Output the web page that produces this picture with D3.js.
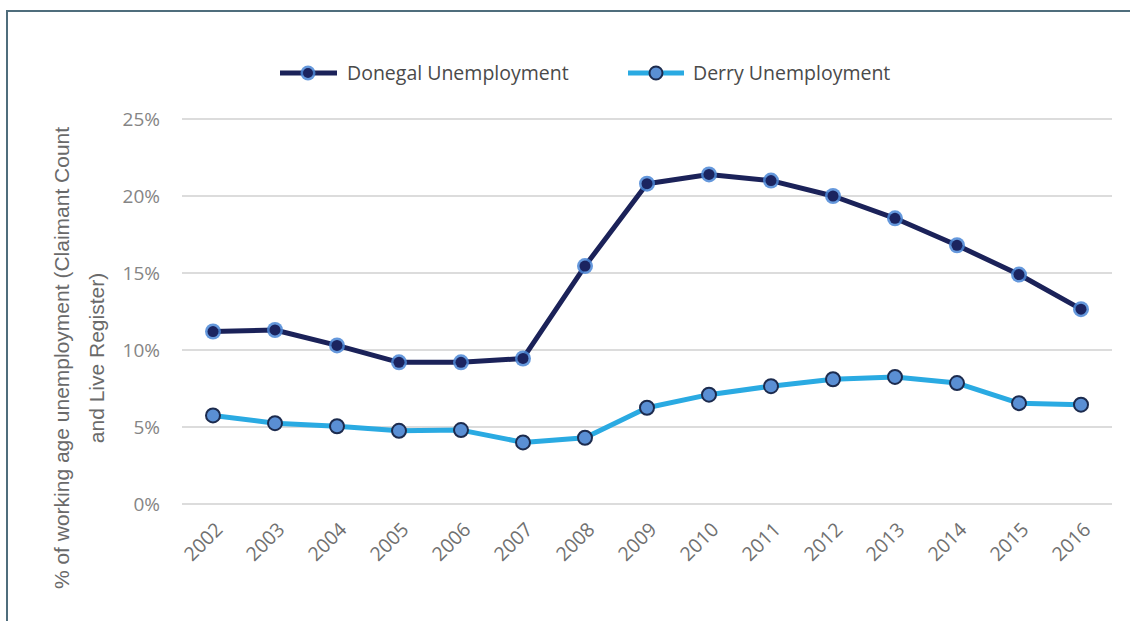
<!DOCTYPE html>
<html><head><meta charset="utf-8">
<script src="https://cdn.jsdelivr.net/npm/d3@7"></script>
<style>html,body{margin:0;padding:0;background:#fff;}</style>
</head><body>
<svg id="chart" width="1130" height="621"></svg>
<script>
const years = ["2002","2003","2004","2005","2006","2007","2008","2009","2010","2011","2012","2013","2014","2015","2016"];
const donegal = [11.2,11.3,10.3,9.2,9.2,9.45,15.45,20.8,21.4,21.0,20.0,18.55,16.8,14.9,12.65];
const derry = [5.75,5.25,5.05,4.75,4.8,4.0,4.3,6.25,7.1,7.65,8.1,8.25,7.85,6.55,6.45];
const yTicks = [0,5,10,15,20,25];
const seriesNames = ["Donegal Unemployment","Derry Unemployment"];
const yTitle = ["% of working age unemployment (Claimant Count","and Live Register)"];

const svg = d3.select("#chart");
// frame
svg.append("line").attr("x1",7).attr("x2",7).attr("y1",11).attr("y2",621).attr("stroke","#4f6d7c").attr("stroke-width",2);
svg.append("line").attr("x1",6).attr("x2",1130).attr("y1",11).attr("y2",11).attr("stroke","#4f6d7c").attr("stroke-width",2);

const x = d3.scaleBand().domain(years).range([182,1112]);
const y = d3.scaleLinear().domain([0,25]).range([504,119]);

// gridlines
svg.append("g").selectAll("line").data(yTicks).join("line")
  .attr("x1",182).attr("x2",1112)
  .attr("y1",d=>y(d)).attr("y2",d=>y(d))
  .attr("stroke","#dcdcdc").attr("stroke-width",2);

// y axis labels
const yAxis = d3.axisLeft(y).tickValues(yTicks).tickFormat(d=>d+"%").tickSize(0).tickPadding(0);
const yg = svg.append("g").attr("transform","translate(160,0)").call(yAxis);
yg.select(".domain").remove();
yg.selectAll("text").style("font-family","Open Sans, sans-serif").style("font-size","19px").attr("fill","#858585");

// x axis labels
const xAxis = d3.axisBottom(x).tickSize(0).tickPadding(0);
const xg = svg.append("g").attr("transform","translate(0,520)").call(xAxis);
xg.select(".domain").remove();
xg.selectAll("text")
  .style("font-family","Open Sans, sans-serif").style("font-size","19.5px").attr("fill","#707070")
  .attr("text-anchor","end").attr("dy","0.35em").attr("y",0)
  .attr("transform","translate(6,6) rotate(-45)");

// y title
const tg = svg.append("g").attr("font-family","'Liberation Sans Narrow', 'Arial Narrow', sans-serif").attr("font-size",21).attr("fill","#6a6a6a").attr("text-anchor","middle");
tg.append("text").attr("transform","translate(69,358) rotate(-90)").text(yTitle[0]);
tg.append("text").attr("transform","translate(104,358) rotate(-90)").text(yTitle[1]);

const cx = d => x(d) + x.bandwidth()/2;
const line = d3.line().x((d,i)=>cx(years[i])).y(d=>y(d));

// Derry
svg.append("path").datum(derry).attr("d",line).attr("fill","none").attr("stroke","#2aaae2").attr("stroke-width",5).attr("stroke-linejoin","round");
svg.append("g").selectAll("circle").data(derry).join("circle")
  .attr("cx",(d,i)=>cx(years[i])).attr("cy",d=>y(d)).attr("r",7)
  .attr("fill","#5a8fd4").attr("stroke","#1c2b4e").attr("stroke-width",2);

// Donegal
svg.append("path").datum(donegal).attr("d",line).attr("fill","none").attr("stroke","#1b2259").attr("stroke-width",5).attr("stroke-linejoin","round");
const dg = svg.append("g");
dg.selectAll("circle.h").data(donegal).join("circle").attr("class","h")
  .attr("cx",(d,i)=>cx(years[i])).attr("cy",d=>y(d)).attr("r",8)
  .attr("fill","#4a86d6").attr("opacity",0.85);
dg.selectAll("circle.c").data(donegal).join("circle").attr("class","c")
  .attr("cx",(d,i)=>cx(years[i])).attr("cy",d=>y(d)).attr("r",5.5)
  .attr("fill","#1b2460");

// legend
const leg = svg.append("g").attr("font-family","Open Sans, sans-serif").attr("font-size",19.5).attr("fill","#4a4a4a");
// Donegal
leg.append("line").attr("x1",280).attr("x2",337).attr("y1",73).attr("y2",73).attr("stroke","#1b2259").attr("stroke-width",5);
leg.append("circle").attr("cx",308).attr("cy",73).attr("r",7.5).attr("fill","#4a86d6").attr("opacity",0.85);
leg.append("circle").attr("cx",308).attr("cy",73).attr("r",5).attr("fill","#1b2460");
leg.append("text").attr("x",347).attr("y",73).attr("dy","0.35em").text(seriesNames[0]);
// Derry
leg.append("line").attr("x1",628).attr("x2",684).attr("y1",73).attr("y2",73).attr("stroke","#2aaae2").attr("stroke-width",5);
leg.append("circle").attr("cx",656).attr("cy",73).attr("r",6.5).attr("fill","#5a8fd4").attr("stroke","#1c2b4e").attr("stroke-width",2);
leg.append("text").attr("x",693).attr("y",73).attr("dy","0.35em").text(seriesNames[1]);
</script>
</body></html>
